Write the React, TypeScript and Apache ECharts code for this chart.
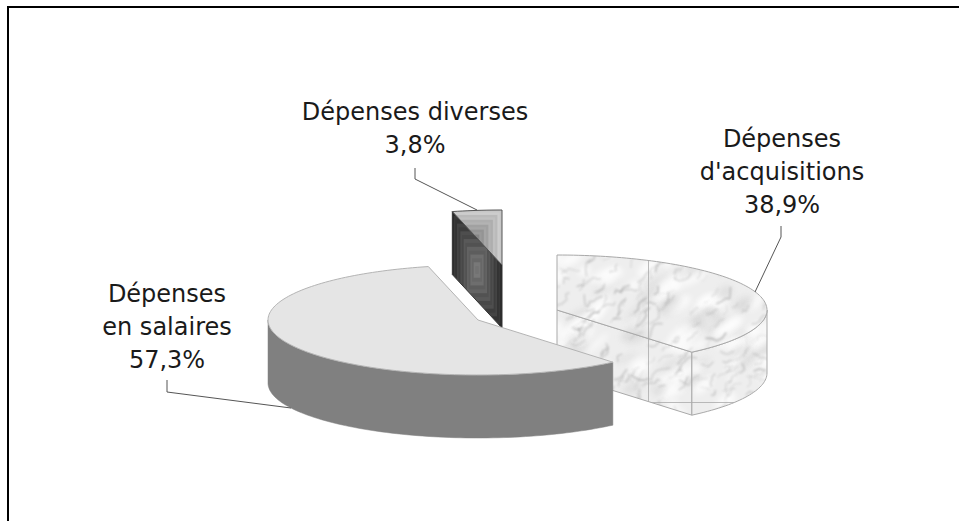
import React, { useEffect, useRef } from "react";
import * as echarts from "echarts";

const categories = ["Dépenses d'acquisitions", "Dépenses en salaires", "Dépenses diverses"];
const shares = [38.9, 57.3, 3.8];
const labelLines = [["Dépenses", "d'acquisitions"], ["Dépenses", "en salaires"], ["Dépenses diverses"]];

const RX = 210, RY = 55, DEPTH = 63;
const centers = [[557, 310], [478, 320], [502, 265]];
const labelPos = [[782, 139], [167, 294], [415, 112]];
const LINE_H = 33;
const leaders = [
  [[781, 226], [781, 237], [755, 292]],
  [[167, 380], [167, 392], [291, 408]],
  [[415, 168], [415, 179], [477, 210]],
];
const FONT = '24px "DejaVu Sans", Verdana, sans-serif';

function makeCanvas(w: number, h: number) {
  const c = document.createElement("canvas");
  c.width = w; c.height = h;
  return c;
}

// Purely decorative marble tile, drawn with a fixed seed. Tile-local coordinates.
function marble(tw: number, th: number, x0: number, y0: number, w: number, h: number, seamX: number, seamY: number) {
  const c = makeCanvas(tw, th);
  const g = c.getContext("2d")!;
  let s = 4242;
  const r = () => ((s = (s * 1103515245 + 12345) & 0x7fffffff) / 0x7fffffff);
  g.fillStyle = "#eeeeee";
  g.fillRect(0, 0, tw, th);
  (g as any).filter = "blur(3px)";
  for (let i = 0; i < 130; i++) {
    g.fillStyle = r() < 0.6 ? "rgba(255,255,255,0.75)" : "rgba(185,185,185,0.28)";
    g.beginPath();
    g.ellipse(x0 + r() * w, y0 + r() * h, 5 + r() * 13, 2 + r() * 5, -0.8 + r() * 0.5, 0, Math.PI * 2);
    g.fill();
  }
  (g as any).filter = "blur(0.9px)";
  for (let i = 0; i < 210; i++) {
    let x = x0 + r() * w, y = y0 + r() * h;
    const a = -0.7 + (r() - 0.5) * 1.2;
    g.strokeStyle = `rgba(120,120,120,${0.12 + r() * 0.3})`;
    g.lineWidth = 0.7 + r() * 1.0;
    g.beginPath();
    g.moveTo(x, y);
    const n = 2 + Math.floor(r() * 4);
    for (let k = 0; k < n; k++) {
      const t = a + (r() - 0.5) * 1.8;
      const l = 2 + r() * 5;
      x += Math.cos(t) * l; y += Math.sin(t) * l;
      g.lineTo(x, y);
    }
    g.stroke();
  }
  (g as any).filter = "none";
  g.fillStyle = "rgba(170,170,170,0.8)";
  g.fillRect(seamX, y0, 1, h);
  g.fillRect(seamX, seamY, x0 + w - seamX, 1);
  return c;
}

// Concentric rectangles, from the edge colour to the centre colour.
function rings(tw: number, th: number, x: number, y: number, w: number, h: number, edge: number, mid: number, steps: number) {
  const c = makeCanvas(tw, th);
  const g = c.getContext("2d")!;
  for (let i = 0; i < steps; i++) {
    const t = i / (steps - 1);
    const v = Math.round(edge + (mid - edge) * t + (i % 2 ? 6 : -6));
    g.fillStyle = `rgb(${v},${v},${v})`;
    const dx = (w / 2) * t, dy = (h / 2) * t;
    g.fillRect(x + dx, y + dy, w - 2 * dx, h - 2 * dy);
  }
  return c;
}

const pt = (c: number[], deg: number, dy = 0) => {
  const a = (deg * Math.PI) / 180;
  return [c[0] + RX * Math.sin(a), c[1] - RY * Math.cos(a) + dy];
};
const arc = (c: number[], from: number, to: number, dy = 0) => {
  const n = Math.max(2, Math.ceil(Math.abs(to - from) / 1.5));
  const out: number[][] = [];
  for (let i = 0; i <= n; i++) out.push(pt(c, from + ((to - from) * i) / n, dy));
  return out;
};

export default function App() {
  const ref = useRef<HTMLDivElement>(null);
  useEffect(() => {
    const chart = echarts.init(ref.current!, undefined, { renderer: "svg" });
    // Tiles repeat from the page origin: each is sized so that one whole tile holds its shape.
    const marbleFill: any = { image: marble(400, 430, 150, 250, 225, 172, 248, 402), repeat: "repeat" };
    const wallFill: any = { image: rings(260, 340, 192, 212, 50, 116, 46, 125, 16), repeat: "repeat" };
    const capFill: any = { image: rings(260, 270, 192, 210, 50, 54, 205, 135, 12), repeat: "repeat" };

    const total = shares.reduce((a, b) => a + b, 0);
    const starts: number[] = [];
    shares.reduce((acc, v) => (starts.push((acc / total) * 360), acc + v), 0);

    const poly = (points: number[][], style: any, z2: number) => ({
      type: "polygon", shape: { points }, style, z2, silent: true,
    });

    const renderItem = (_: any, api: any) => {
      const i = api.value(0) as number;
      const from = starts[i];
      const to = from + (api.value(1) / total) * 360;
      const c = centers[i];
      const kids: any[] = [];
      const topShape = [c, ...arc(c, from, to)];
      if (i === 0) {
        const edge = { stroke: "#a9a9a9", lineWidth: 1, fill: marbleFill };
        kids.push(poly([c, pt(c, to), pt(c, to, DEPTH), [c[0], c[1] + DEPTH]], edge, 1));
        kids.push(poly([...arc(c, 90, to), ...arc(c, to, 90, DEPTH)], edge, 1));
        kids.push(poly(topShape, edge, 2));
      } else if (i === 1) {
        kids.push(poly([...arc(c, from, 270), ...arc(c, 270, from, DEPTH)], { fill: "#808080", stroke: "#808080", lineWidth: 0.5 }, 5));
        kids.push(poly(topShape, { fill: "#e5e5e5", stroke: "#b4b4b4", lineWidth: 1 }, 6));
      } else {
        const a = pt(c, from);
        kids.push(poly([a, c, [c[0], c[1] + DEPTH], [a[0], a[1] + DEPTH]], { fill: wallFill, stroke: "#333333", lineWidth: 1 }, 1));
        kids.push(poly(topShape, { fill: capFill, stroke: "#555555", lineWidth: 1 }, 2));
      }
      kids.push({ type: "polyline", shape: { points: leaders[i] }, style: { stroke: "#555555", lineWidth: 1, fill: "none" }, z2: 8, silent: true });
      const lines = [...labelLines[i], `${String(api.value(1)).replace(".", ",")}%`];
      lines.forEach((t, k) => {
        kids.push({
          type: "text", z2: 9, silent: true,
          style: { text: t, x: labelPos[i][0], y: labelPos[i][1] + k * LINE_H, textAlign: "center", textVerticalAlign: "middle", font: FONT, fill: "#1a1a1a" },
        });
      });
      return { type: "group", children: kids };
    };

    chart.setOption({
      animation: false,
      backgroundColor: "#ffffff",
      graphic: [
        { type: "rect", shape: { x: 7, y: 6, width: 952, height: 2 }, style: { fill: "#000000" }, silent: true },
        { type: "rect", shape: { x: 7, y: 6, width: 2, height: 515 }, style: { fill: "#000000" }, silent: true },
      ],
      series: [{
        type: "custom",
        coordinateSystem: "none",
        silent: true,
        renderItem,
        encode: { itemName: 2 },
        data: categories.map((name, i) => ({ name, value: [i, shares[i]] })),
      }],
    });
    return () => chart.dispose();
  }, []);
  return <div ref={ref} style={{ position: "absolute", left: 0, top: 0, width: 959, height: 521 }} />;
}
